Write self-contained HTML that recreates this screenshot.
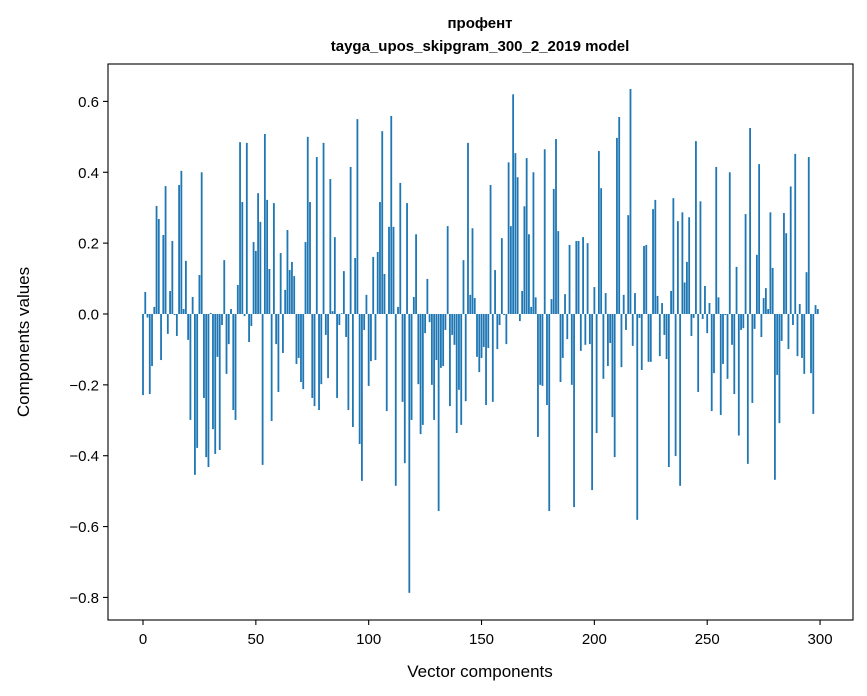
<!DOCTYPE html>
<html><head><meta charset="utf-8"><style>
html,body{margin:0;padding:0;background:#fff;}
svg{display:block;font-family:"Liberation Sans","DejaVu Sans",sans-serif;}
</style></head><body>
<svg id="chart" width="867" height="696" viewBox="0 0 867 696" xmlns="http://www.w3.org/2000/svg">
<rect x="0" y="0" width="867" height="696" fill="#fff"/>
<text x="480" y="28" text-anchor="middle" font-size="15" font-weight="bold">профент</text>
<text x="480" y="51" text-anchor="middle" font-size="15" font-weight="bold">tayga_upos_skipgram_300_2_2019 model</text>
<g id="bars"></g>
<g id="axes"></g>
<text x="480" y="677" text-anchor="middle" font-size="17">Vector components</text>
<text transform="translate(29,342) rotate(-90)" text-anchor="middle" font-size="17">Components values</text>
</svg>
<script>
const values = [
-0.229,0.062,-0.01,-0.226,-0.147,0.02,0.305,0.268,-0.13,0.223,
0.361,-0.056,0.065,0.206,-0.003,-0.062,0.364,0.404,0.014,0.15,
-0.073,-0.299,0.048,-0.454,-0.378,0.11,0.40,-0.237,-0.404,-0.432,
0.003,-0.325,-0.395,-0.121,-0.384,-0.031,0.152,-0.169,-0.085,0.014,
-0.271,-0.299,0.082,0.485,0.316,-0.006,0.483,-0.079,-0.034,0.203,
0.178,0.341,0.26,-0.426,0.508,0.322,0.127,-0.302,0.313,-0.085,
-0.22,0.172,-0.11,0.068,0.237,0.124,0.147,0.107,-0.141,-0.124,
-0.192,-0.212,0.203,0.5,0.316,-0.237,-0.26,0.443,-0.271,-0.198,
0.483,-0.059,-0.181,0.381,0.008,0.217,-0.237,-0.031,0.002,0.121,
-0.065,-0.271,0.415,-0.319,0.158,0.55,-0.367,-0.471,-0.045,0.054,
-0.203,-0.133,0.161,-0.13,0.175,0.316,0.516,0.113,-0.274,0.246,
0.559,0.246,-0.485,0.02,0.37,-0.248,-0.421,0.313,-0.787,-0.299,
0.048,0.225,-0.198,-0.339,-0.313,-0.054,0.099,-0.023,-0.2,-0.299,
-0.13,-0.556,-0.152,-0.147,-0.045,0.248,-0.26,-0.059,-0.087,-0.336,
-0.214,-0.313,0.152,-0.246,0.483,0.054,0.242,0.045,-0.121,-0.164,
-0.124,-0.093,-0.257,-0.096,0.364,-0.248,0.124,-0.099,-0.031,0.214,
-0.003,-0.085,0.428,0.248,0.62,0.454,0.386,-0.02,0.065,0.304,
0.44,0.225,0.02,0.4,0.047,-0.347,-0.2,-0.203,0.465,-0.257,
-0.556,0.042,0.353,0.494,0.234,-0.192,-0.124,0.056,-0.071,0.195,
-0.2,-0.545,0.206,0.206,-0.104,0.217,-0.087,0.2,-0.085,-0.497,
0.076,-0.336,0.46,0.355,-0.183,0.059,-0.147,-0.082,-0.291,-0.404,
0.497,0.556,-0.15,0.054,-0.045,0.279,0.635,-0.09,0.059,-0.581,
-0.011,-0.158,0.192,0.195,-0.135,-0.135,0.296,0.322,0.051,-0.119,
0.031,-0.059,-0.127,-0.432,0.065,0.327,-0.401,0.262,-0.485,0.287,
0.089,0.147,0.273,-0.062,-0.011,0.488,-0.22,0.318,-0.014,0.079,
-0.054,0.031,-0.274,-0.167,0.415,0.047,-0.285,-0.141,-0.003,-0.183,
0.4,-0.087,-0.226,0.133,-0.343,-0.045,-0.04,0.282,-0.423,0.525,
-0.251,-0.042,0.167,0.423,-0.065,0.045,0.073,0.014,0.287,0.13,
-0.468,-0.172,-0.308,-0.076,0.285,0.228,-0.099,0.36,-0.031,0.452,
-0.119,0.028,-0.124,-0.169,0.118,0.443,-0.167,-0.282,0.025,0.014
];
const xTicks = [0,50,100,150,200,250,300];
const yTicks = [-0.8,-0.6,-0.4,-0.2,0.0,0.2,0.4,0.6];

const L=108,R=853,T=64,B=620;
const xMin=-15.51,xMax=314.6,yMin=-0.8637,yMax=0.7056;
function xs(v){return L+(v-xMin)/(xMax-xMin)*(R-L);}
function ys(v){return B-(v-yMin)/(yMax-yMin)*(B-T);}
const NS="http://www.w3.org/2000/svg";
const bars=document.getElementById('bars');
values.forEach((v,i)=>{
  const r=document.createElementNS(NS,'rect');
  const x0=xs(i-0.4),x1=xs(i+0.4);
  const y0=ys(Math.max(v,0)),y1=ys(Math.min(v,0));
  r.setAttribute('x',x0);r.setAttribute('width',x1-x0);
  r.setAttribute('y',y0);r.setAttribute('height',Math.max(y1-y0,0.01));
  r.setAttribute('fill','#1f77b4');
  
  
  bars.appendChild(r);
});
const axes=document.getElementById('axes');
const frame=document.createElementNS(NS,'rect');
frame.setAttribute('x',L);frame.setAttribute('y',T);
frame.setAttribute('width',R-L);frame.setAttribute('height',B-T);
frame.setAttribute('fill','none');frame.setAttribute('stroke','#000');frame.setAttribute('stroke-width','1.1');


axes.appendChild(frame);
function fmt(v){const s=v.toFixed(1);return v<0?'\u2212'+s.slice(1):s;}
xTicks.forEach(t=>{
  const x=xs(t);
  const l=document.createElementNS(NS,'line');
  l.setAttribute('x1',x);l.setAttribute('x2',x);l.setAttribute('y1',B);l.setAttribute('y2',B+5);
  l.setAttribute('stroke','#000');l.setAttribute('stroke-width','1.1');
  
  
  axes.appendChild(l);
  const tx=document.createElementNS(NS,'text');
  tx.setAttribute('x',x);tx.setAttribute('y',B+24);tx.setAttribute('text-anchor','middle');tx.setAttribute('font-size','15');
  tx.textContent=String(t);
  
  
  axes.appendChild(tx);
});
yTicks.forEach(t=>{
  const y=ys(t);
  const l=document.createElementNS(NS,'line');
  l.setAttribute('x1',L-5);l.setAttribute('x2',L);l.setAttribute('y1',y);l.setAttribute('y2',y);
  l.setAttribute('stroke','#000');l.setAttribute('stroke-width','1.1');
  
  
  axes.appendChild(l);
  const tx=document.createElementNS(NS,'text');
  tx.setAttribute('x',L-9);tx.setAttribute('y',y+5.5);tx.setAttribute('text-anchor','end');tx.setAttribute('font-size','15');
  tx.textContent=fmt(t);
  
  
  axes.appendChild(tx);
});
</script>
</body></html>
